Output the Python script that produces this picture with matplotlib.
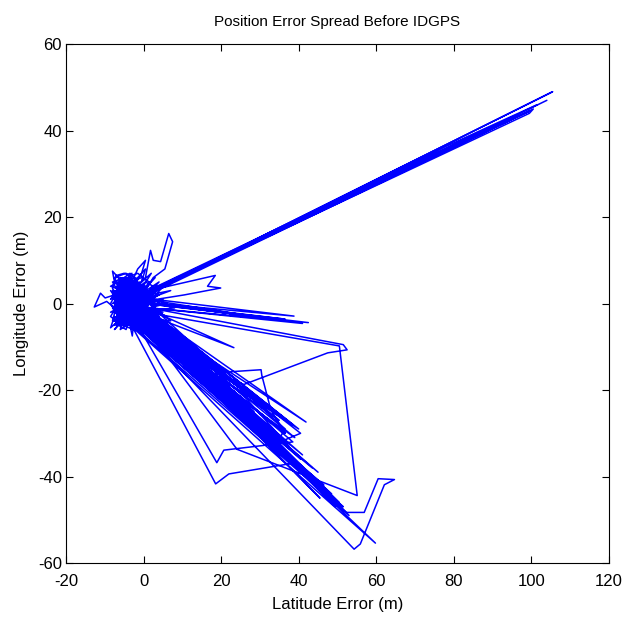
import matplotlib
matplotlib.use('Agg')
import matplotlib.pyplot as plt
import numpy as np

# trajectory pieces (latitude error, longitude error) in metres
cluster_a = [(-1.5, 0), (-3.5, 1), (-5.5, 3), (-7.5, 2), (-9.9, 1.3), (-11.1, 2.4), (-12.7, -0.8),
             (-9.5, 0.5), (-7.5, -1), (-6.5, 2), (-4.5, 4), (-8, 7.5), (-7.5, 5), (-5.5, 6), (-3.5, 3),
             (-1.5, 5), (-2.5, 2), (-0.5, 4), (-4.5, 0), (-6.5, -2), (-4.5, -4), (-7.5, -3), (-8.5, -5.6),
             (-6.5, -4), (-3.5, -3), (-1.5, -1), (0.5, 1), (-2.5, -2), (-5.5, 0), (-3.5, 2), (-0.5, 0),
             (1.5, 3), (-1.5, 2), (-4.5, -1), (-2.5, -4), (-2.9, -7.5), (-3.5, -5), (-1.5, -3), (0.5, -1),
             (2.5, 1), (-0.5, 3), (-3.5, 4), (-1.5, 6), (0.5, 8), (-0.5, 5)]
spike_up = [(0.5, 6), (1.8, 12.3), (2.5, 10), (4.4, 9.7), (6.5, 16.2), (7.5, 14.3), (5.5, 8), (2.5, 6),
            (0.5, 3)]
cluster_b = [(-2.5, 3), (-6.5, 1), (-8.5, 3), (-5.5, -1), (-7.5, -4), (-4.5, -2), (-6.5, 4), (-3.5, 6),
             (-0.5, 2), (-2.5, 0), (-7.5, 0), (-5.5, -3), (-2.5, 1), (0.5, 4), (-4.5, 5), (-6.5, -1),
             (-8.5, -2), (-3.5, -1), (-1.5, 3), (1.5, 2), (-2.5, -3), (-5.5, 2), (-7.5, 6), (-4.5, 7),
             (-1.5, 4), (0.5, 2), (-3.5, 0), (-6.5, -5), (-4.5, -6), (-2.5, -1), (-0.5, 1), (-5.5, 4),
             (-8.5, 1), (-6.5, 3), (-3.5, 5), (-0.5, 6), (1.5, 5), (-1.5, 1)]
cluster_e = [(-4, 2), (-6, -1), (-3, -4), (-7, 4), (-2, 1), (-5, -3), (-1, 3), (-6, 5), (-4, -2), (-8, 2),
             (-3, 0), (-5, 4), (-7, -4), (-2, -2), (-6, 2), (-3, 5), (-1, -1), (-5, -5), (-8, -1), (-4, 3),
             (-2, -5), (-6, -2), (-3, 2), (0, 0), (-5, 1), (-7, -1), (-4, -5), (-1, 2), (-6, 3), (-3, -3),
             (-8, 5), (-2, 4), (-5, -1), (-7, 2), (-4, 0), (-1, -3), (-6, -6), (-3, 6), (-5, 2), (-2, -1)]
cluster_g = [(-5, 3), (-2, 0), (-6, -3), (-4, 4), (-7, 1), (-3, -2), (-5, -4), (-1, 1), (-6, 6), (-4, -1),
             (-2, 2), (-7, -2), (-3, 4), (-5, 0), (-1, -2), (-6, 2), (-4, -4), (-2, 5), (-8, 0), (-3, 1),
             (-5, -2), (-7, 3), (-2, -4), (-4, 6), (-6, -1), (-1, 4), (-3, -5), (-5, 5), (-7, -5), (-2, 3),
             (-4, 1), (-6, -4), (0, 2), (-3, -1), (-5, 1), (-1, 0), (-7, 5), (-4, -3), (-2, 1), (-6, 0)]
cluster_i = [(-6, 0.5), (-5, 1.5), (-6.5, 2.5), (-5.5, 3.5), (-4, 2.5), (-4.5, 0.5), (-3, -0.5),
             (-4, -1.5), (-5.5, -0.5), (-6.5, -1.5), (-7, -0.5), (-7.5, 1), (-6.5, 4), (-5, 5.5),
             (-3.5, 4.5), (-2.5, 3.5), (-1, 4.5), (0, 3.5), (-0.5, 2), (-1.5, 0.5), (0.5, 0), (1, -1.5),
             (-0.5, -2.5), (-2, -3.5), (-3.5, -4.5), (-5, -4.5), (-6, -3.5), (-4.5, -2.5), (-3, -2.5),
             (-2, -1), (-3.5, 0.5), (-2.5, 2.5), (-4, 3.5), (-5.5, 2), (-7, 2), (-8, 3.5), (-7, 6.5),
             (-5, 7), (-3, 6.5), (-1.5, 7), (0, 6)]
loop_right = [(1.5, 3), (18.5, 6.5), (16.5, 4), (19.9, 3.6), (10.5, 2), (3.5, 1)]
east_lines = [(2.5, 1), (38.8, -2.9), (3.5, 0), (41, -4.6), (1.5, -1), (42.5, -4.4), (0.5, 0),
              (36.5, -3.6), (2.5, 0), (28.5, -3), (0.5, 1)]
ne_spike = [(2.5, 3), (105.5, 49), (4.5, 4), (104, 47), (3.5, 3), (100.5, 45), (99.5, 44), (2.5, 3),
            (78.1, 36.4), (101.5, 46), (3.5, 4), (99.5, 44.5), (1.5, 3)]
cluster_c = [(0.5, 0), (-2.5, -5), (-5.5, -4), (-7.5, -6), (-4.5, -3), (-1.5, 0), (-3.5, 3), (-6.5, 6),
             (-4.5, 2), (-7.5, -2), (-5.5, 1), (-2.5, 4), (-0.5, 7), (0.5, 10), (-1.5, 8), (-2.5, 6),
             (-4.5, 3), (-6.5, 0), (-3.5, -2), (-1.5, -4), (-4.5, -5), (-6.5, -3), (-8.5, 0), (-5.5, 5),
             (-2.5, 3), (0.5, 5), (2.5, 4), (-0.5, 1), (-3.5, -4), (-5.5, -2)]
cluster_f = [(-3, 1), (4, 2), (-2, -1), (5, -2), (-4, 0), (3, 6), (-1, 2), (6, 0), (-3, -2), (2, -4),
             (-6, 1), (-5, -4), (3, -1), (-2, 3), (-7, 0), (1, 4), (-4, -3), (4, -3), (-1, 0), (-6, 4),
             (-3, 7), (-5, 2), (2, 1), (-7, -3), (-2, -3), (0, 3), (-4, 5), (-6, -2), (1, -2), (-3, -1),
             (-5, 6), (-8, -4), (-1, -4), (-4, 2), (2, 3), (-6, -5), (-2, 6), (-5, 0), (0, -1), (-3, 3)]
cluster_h = [(-4, 1), (7, 3), (-2, 0), (6, -3), (-5, 2), (8, -1), (-3, -2), (4, 5), (-6, -1), (5, 1),
             (-1, -3), (-7, 2), (3, -5), (-4, 4), (-2, -4), (5, 4), (-5, -3), (2, 7), (-3, 3), (7, -4),
             (-6, -3), (1, -5), (-4, -1), (-8, 3), (-2, 2), (3, 3), (-5, -5), (-1, 5), (-3, -3), (-7, -1)]
band_a = [(0.5, -1), (23.3, -10.2), (-0.5, -2), (38.5, -28), (1.5, -2), (41.9, -27.4), (0.5, -3),
          (33.5, -28), (-1.5, -2), (36.5, -30), (-0.5, -3), (43.5, -38), (-2.5, -4), (46.5, -42),
          (-1.5, -5), (48.5, -44), (-0.5, -4), (34.5, -32), (36.5, -29), (2.5, -1)]
east_loop = [(1.5, -1), (50.2, -9.3), (51.5, -9.5), (52.5, -10.7), (47.5, -11.4), (25.9, -18.7),
             (18.5, -16), (30.3, -15.3), (30.5, -16.6), (32.8, -24.5), (36.5, -30), (-1.5, -2)]
cluster_d = [(-1.5, -2), (-4.5, 1), (-7.5, 3), (-5.5, 0), (-3.5, -3), (-6.5, -3), (-7.5, 1), (-4.5, 6),
             (-2.5, 5), (-0.5, 3), (1.5, 1), (-1.5, -1), (-3.5, 2), (-5.5, -2), (-7.5, -5), (-4.5, -4),
             (-2.5, -2), (0.5, 2), (-1.5, 5), (-3.5, 7), (-6.5, 5), (-8.5, 4), (-5.5, 3), (-2.5, 0),
             (-0.5, -2), (-2.5, -6), (-5.5, -5), (-8.5, -3), (-6.5, 0), (-3.5, 1)]
vert_drop = [(0.5, -2), (50.5, -9.8), (55.1, -44.4), (24.1, -33.7), (-1.5, -3)]
south_loop = [(-2.5, -3), (52.3, -48.3), (56.9, -48.3), (60.5, -40.5), (64.7, -40.7), (62.1, -41.9),
              (55.9, -55.6), (54.3, -56.8), (-2.5, -4)]
long_south = [(-1.5, -3), (59.8, -55.4), (-3.5, -5)]
sw_loop = [(-2.5, -6), (18.6, -41.7), (22, -39.4), (38, -37), (0.5, -3), (-1.5, -5), (18.9, -36.8),
           (20.7, -33.9), (38.5, -32), (-0.5, -2)]
band_b = [(0.5, -2), (50.5, -46), (-2.5, -3), (51.5, -47), (-1.5, -4), (28.5, -25), (0.5, -1),
          (31.5, -29), (-3.5, -4), (42.5, -40), (-0.5, -3), (45.5, -45), (-1.5, -2), (49.5, -47),
          (1.5, -2), (26.5, -22), (37.5, -33), (-0.5, -1), (40.5, -36), (-2.5, -2), (29.5, -27),
          (24.5, -26), (-1.5, -4), (32.5, -33), (40.5, -30), (0.5, -2)]
band_c = [(-1, -3), (44, -41), (0, -2), (39, -31), (-2, -5), (47, -44), (1, -2), (35, -27), (-1, -4),
          (41, -35), (0, -3), (30, -23), (-3, -5), (53, -49), (1, -1), (37, -27), (-2, -3), (45, -39),
          (0, -4), (33, -31), (-1, -2), (27, -21), (2, -2), (40, -29), (-1, -5), (49, -45), (0, -2),
          (20, -15), (-2, -4), (46, -43), (1, -3)]

track = (cluster_a + spike_up + cluster_b + cluster_e + loop_right + east_lines + ne_spike
         + cluster_c + cluster_i + cluster_f + band_a + east_loop + cluster_g + cluster_d + vert_drop
         + south_loop + long_south + sw_loop + cluster_h + band_b + band_c)
lat_err = np.array([p[0] for p in track])
lon_err = np.array([p[1] for p in track])

plt.rcParams['font.family'] = ['Liberation Sans', 'DejaVu Sans']
plt.rcParams['axes.unicode_minus'] = False

fig = plt.figure(figsize=(6.38, 6.17), dpi=100)
ax = fig.add_axes([0.1034, 0.0875, 0.851, 0.841])
ax.plot(lat_err, lon_err, color='#0000FF', lw=1.1)

ax.set_xlim(-20, 120)
ax.set_ylim(-60, 60)
ax.set_xticks(np.arange(-20, 121, 20))
ax.set_yticks(np.arange(-60, 61, 20))
ax.tick_params(direction='in', top=True, right=True, length=5, width=0.8, labelsize=12)
ax.tick_params(axis='x', pad=8)
ax.tick_params(axis='y', pad=3)
for s in ax.spines.values():
    s.set_linewidth(0.8)

ax.set_xlabel("Latitude Error (m)", fontsize=12, labelpad=6)
ax.set_ylabel("Longitude Error (m)", fontsize=12, labelpad=6)
ax.set_title("Position Error Spread Before IDGPS", fontsize=11, pad=13)

fig.savefig("out.png", dpi=100, facecolor='white')
